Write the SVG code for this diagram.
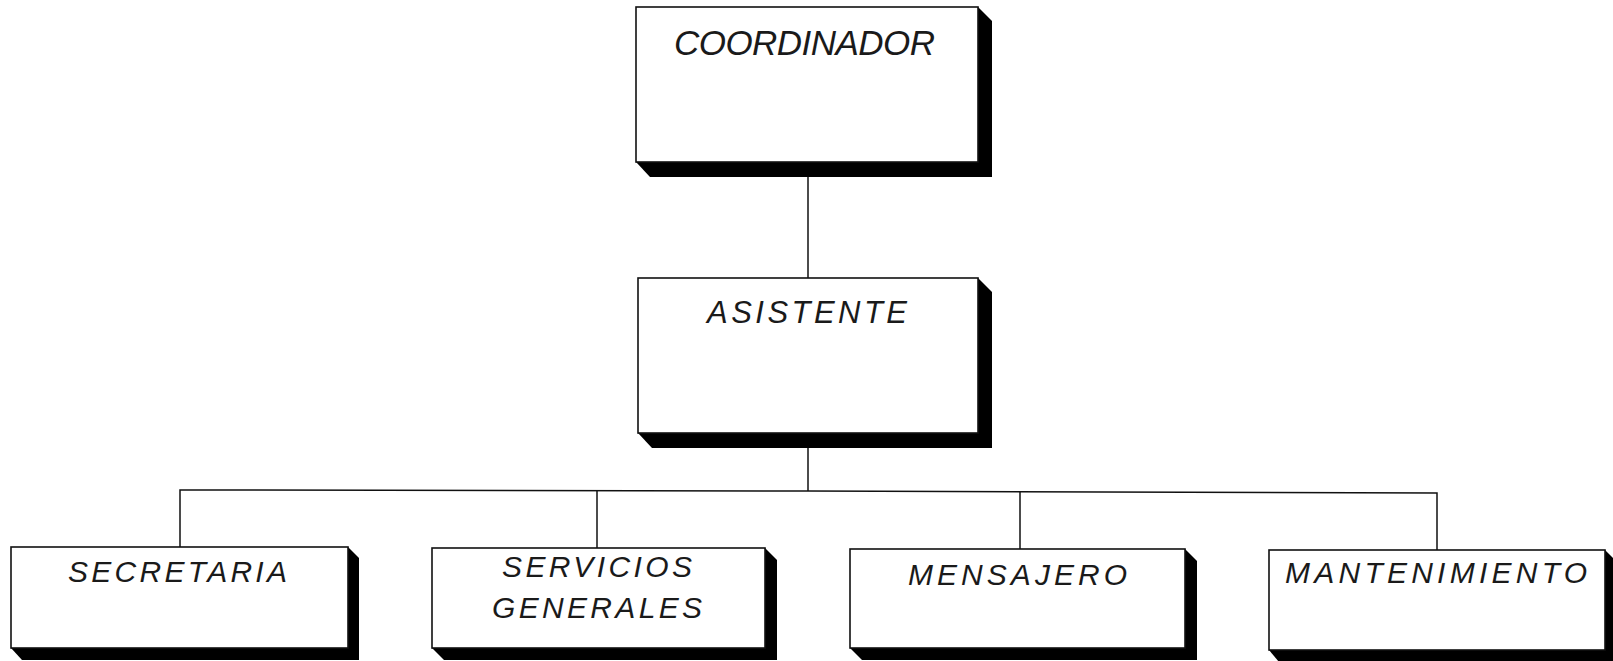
<svg xmlns="http://www.w3.org/2000/svg" width="1613" height="661" viewBox="0 0 1613 661">
<style>
.box{fill:#fff;stroke:#111;stroke-width:1.6}
.sh{fill:#000}
.lbl{font-family:"Liberation Sans",Arial,sans-serif;font-style:italic;fill:#1a1a1a}
.ln{stroke:#111;stroke-width:1.5;fill:none}
</style>
<g id="connectors">
<line class="ln" x1="808" y1="162" x2="808" y2="278"/>
<line class="ln" x1="808" y1="433" x2="808" y2="491"/>
<polyline class="ln" points="180,547 180,490 808,491 1437,493 1437,550"/>
<line class="ln" x1="597" y1="491" x2="597" y2="548"/>
<line class="ln" x1="1020" y1="492" x2="1020" y2="549"/>
</g>
<g id="coordinador">
<polygon class="sh" points="978,7 992,21 992,177 650,177 636,162"/>
<rect class="box" x="636" y="7" width="342" height="155"/>
<text class="lbl" x="674" y="55" font-size="35" textLength="261" lengthAdjust="spacing">COORDINADOR</text>
</g>
<g id="asistente">
<polygon class="sh" points="978,278 992,292 992,448 652,448 638,433"/>
<rect class="box" x="638" y="278" width="340" height="155"/>
<text class="lbl" x="707" y="323" font-size="31" textLength="200" lengthAdjust="spacing">ASISTENTE</text>
</g>
<g id="secretaria">
<polygon class="sh" points="348,547 359,558 359,660 22,660 11,648"/>
<rect class="box" x="11" y="547" width="337" height="101"/>
<text class="lbl" x="68" y="582" font-size="30" textLength="219" lengthAdjust="spacing">SECRETARIA</text>
</g>
<g id="servicios-generales">
<polygon class="sh" points="765,548 777,560 777,660 444,660 432,648"/>
<rect class="box" x="432" y="548" width="333" height="100"/>
<text class="lbl" x="502" y="577" font-size="30" textLength="190" lengthAdjust="spacing">SERVICIOS</text>
<text class="lbl" x="492" y="618" font-size="30" textLength="210" lengthAdjust="spacing">GENERALES</text>
</g>
<g id="mensajero">
<polygon class="sh" points="1185,549 1197,561 1197,660 862,660 850,648"/>
<rect class="box" x="850" y="549" width="335" height="99"/>
<text class="lbl" x="908" y="585" font-size="30" textLength="219" lengthAdjust="spacing">MENSAJERO</text>
</g>
<g id="mantenimiento">
<polygon class="sh" points="1605,550 1615,560 1615,662 1279,662 1269,650"/>
<rect class="box" x="1269" y="550" width="336" height="100"/>
<text class="lbl" x="1285" y="583" font-size="30" textLength="302" lengthAdjust="spacing">MANTENIMIENTO</text>
</g>
</svg>
